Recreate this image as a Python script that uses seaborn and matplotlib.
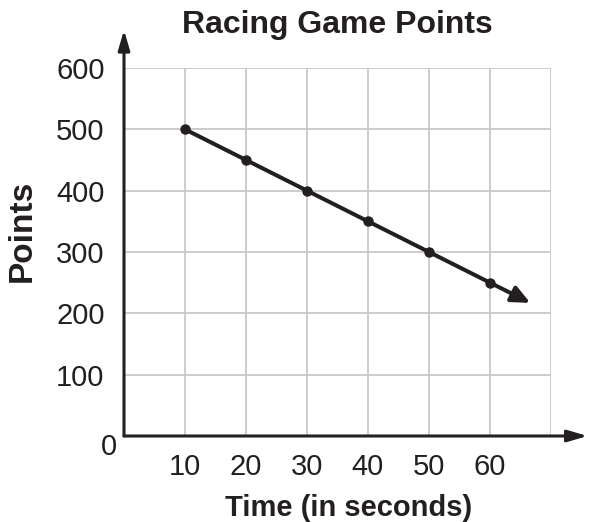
import matplotlib.pyplot as plt
import seaborn as sns
import pandas as pd

# data
time_s = [10, 20, 30, 40, 50, 60]
points = [500, 450, 400, 350, 300, 250]
arrow_end = (66.6, 217)          # where the line's arrow head points
x_ticks = [10, 20, 30, 40, 50, 60]
y_ticks = [100, 200, 300, 400, 500, 600]

sns.set_style('white')
plt.rcParams['font.family'] = ['Liberation Sans', 'DejaVu Sans']

ink = '#231f20'
df = pd.DataFrame({'time': time_s, 'points': points})

fig = plt.figure(figsize=(5.89, 5.22), dpi=100)
ax = fig.add_axes([124 / 589, 86 / 522, 427 / 589, 368 / 522])

sns.lineplot(data=df, x='time', y='points', ax=ax, color=ink, linewidth=2.9,
             marker='o', markersize=7.5, markeredgewidth=0, zorder=5)

# line continues past the last point with an arrow
ax.annotate('', xy=arrow_end, xytext=(time_s[-1], points[-1]),
            arrowprops=dict(arrowstyle='-|>,head_length=1.1,head_width=0.5',
                            color=ink, lw=2.9, shrinkA=0, shrinkB=0),
            annotation_clip=False, zorder=5)

ax.set_xlim(0, 70)
ax.set_ylim(0, 600)
ax.set_xticks(x_ticks + [70])
ax.set_xticklabels([str(t) for t in x_ticks] + [''])
ax.set_yticks(y_ticks)
ax.set_yticklabels([str(t) for t in y_ticks])
ax.grid(True, color='#c8c8c8', linewidth=1.3)
ax.set_axisbelow(True)
for s in ax.spines.values():
    s.set_visible(False)
ax.tick_params(axis='both', length=0, labelsize=21, colors=ink)
ax.tick_params(axis='x', pad=12)
ax.tick_params(axis='y', pad=14)

# axis arrows
ax.annotate('', xy=(76, 0), xytext=(0, 0),
            arrowprops=dict(arrowstyle='-|>,head_length=1.2,head_width=0.35',
                            color=ink, lw=2.2, shrinkA=0, shrinkB=0),
            annotation_clip=False)
ax.annotate('', xy=(0, 662), xytext=(0, 0),
            arrowprops=dict(arrowstyle='-|>,head_length=1.2,head_width=0.35',
                            color=ink, lw=2.2, shrinkA=0, shrinkB=0),
            annotation_clip=False)
ax.annotate('0', xy=(0, 0), xytext=(-10.5, -8), textcoords='offset points',
            ha='center', va='center', fontsize=21, color=ink)

ax.set_xlabel('')
ax.set_ylabel('')
fig.text(349 / 589, 1 - 508 / 522, 'Time (in seconds)', ha='center', va='center',
         fontsize=21, fontweight='bold', color=ink)
fig.text(22 / 589, 1 - 231 / 522, 'Points', ha='center', va='center', rotation=90,
         fontsize=24, fontweight='bold', color=ink)
fig.text(337 / 589, 1 - 25 / 522, 'Racing Game Points', ha='center', va='center',
         fontsize=23, fontweight='bold', color=ink)

fig.savefig('out.png', dpi=100)
plt.close(fig)
